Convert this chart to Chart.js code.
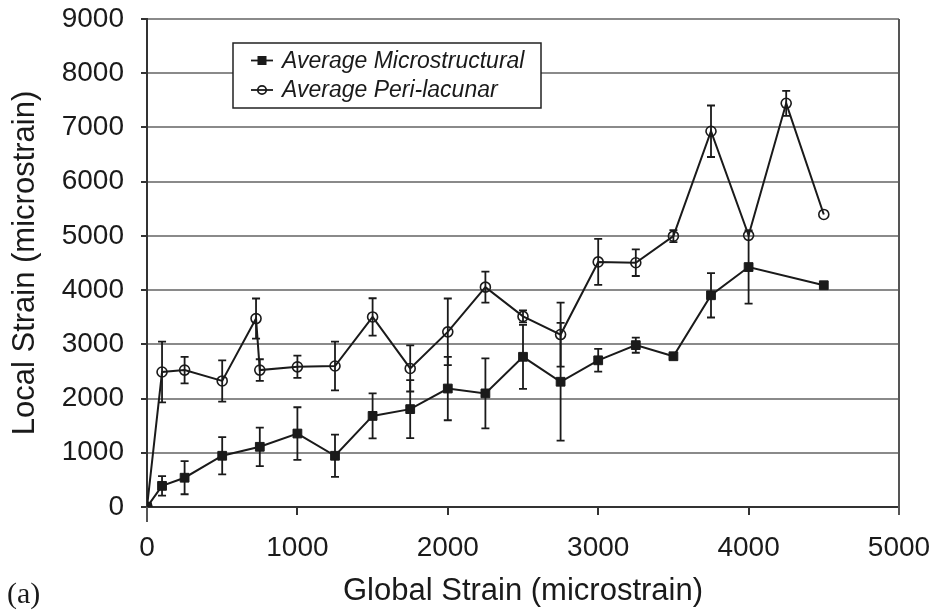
<!DOCTYPE html>
<html>
<head>
<meta charset="utf-8">
<script src="https://cdn.jsdelivr.net/npm/chart.js@4.4.0/dist/chart.umd.min.js"></script>
<style>
  html, body { margin: 0; padding: 0; background: #fff; }
  #wrap { width: 942px; height: 614px; position: relative; }
</style>
</head>
<body>
<div id="wrap"><canvas id="strain_chart"></canvas></div>
<script>
const microX = [0, 100, 250, 500, 750, 1000, 1250, 1500, 1750, 2000, 2250, 2500, 2750, 3000, 3250, 3500, 3750, 4000, 4500];
const microY = [0, 390, 540, 945, 1110, 1355, 945, 1680, 1805, 2185, 2095, 2770, 2310, 2705, 2985, 2780, 3905, 4425, 4090];
const microErr = [0, 180, 305, 345, 355, 485, 390, 415, 535, 585, 645, 590, 1085, 210, 140, 0, 410, 675, 0];

const periX = [0, 100, 250, 500, 725, 750, 1000, 1250, 1500, 1750, 2000, 2250, 2500, 2750, 3000, 3250, 3500, 3750, 4000, 4250, 4500];
const periY = [0, 2490, 2525, 2325, 3475, 2525, 2585, 2600, 3505, 2555, 3230, 4055, 3515, 3180, 4520, 4505, 4995, 6930, 5010, 7445, 5395];
const periErr = [0, 560, 245, 380, 370, 200, 205, 450, 345, 425, 615, 285, 110, 590, 425, 245, 110, 475, 0, 230, 0];

const xTicks = [0, 1000, 2000, 3000, 4000, 5000];
const yTicks = [0, 1000, 2000, 3000, 4000, 5000, 6000, 7000, 8000, 9000];

const seriesNames = ['Average Microstructural', 'Average Peri-lacunar'];
const FONT = "'Liberation Sans', Arial, sans-serif";

function toPoints(xs, ys) {
  return xs.map((x, i) => ({ x: x, y: ys[i] }));
}

// error bars, right frame, legend box, panel label
const extras = {
  id: 'extras',
  beforeDatasetsDraw(chart) {
    const c = chart.ctx;
    const xs = chart.scales.x, ys = chart.scales.y;
    const sets = [[microX, microY, microErr], [periX, periY, periErr]];
    c.save();
    c.strokeStyle = '#1a1a1a';
    c.lineWidth = 1.8;
    sets.forEach(([xv, yv, ev]) => {
      xv.forEach((x, i) => {
        if (!ev[i]) return;
        const px = xs.getPixelForValue(x);
        const top = ys.getPixelForValue(yv[i] + ev[i]);
        const bot = ys.getPixelForValue(yv[i] - ev[i]);
        c.beginPath();
        c.moveTo(px, top); c.lineTo(px, bot);
        c.moveTo(px - 4, top); c.lineTo(px + 4, top);
        c.moveTo(px - 4, bot); c.lineTo(px + 4, bot);
        c.stroke();
      });
    });
    const a = chart.chartArea;
    c.strokeStyle = '#555';
    c.lineWidth = 2;
    c.beginPath();
    c.moveTo(a.right, a.top); c.lineTo(a.right, a.bottom + 8);
    c.moveTo(a.left, a.bottom); c.lineTo(a.left, a.bottom + 15);
    c.stroke();
    c.restore();
  },
  afterDraw(chart) {
    const c = chart.ctx;
    c.save();
    c.fillStyle = '#fff';
    c.fillRect(233, 43, 308, 65);
    c.strokeStyle = '#222';
    c.lineWidth = 1.5;
    c.strokeRect(233, 43, 308, 65);
    const rows = [60.5, 90];
    rows.forEach((ry, i) => {
      c.strokeStyle = '#1a1a1a';
      c.lineWidth = 1.8;
      c.beginPath();
      c.moveTo(251, ry); c.lineTo(273, ry);
      c.stroke();
      if (i === 0) {
        c.fillStyle = '#1a1a1a';
        c.fillRect(257.5, ry - 4.5, 9, 9);
      } else {
        c.beginPath();
        c.arc(262, ry, 4.2, 0, Math.PI * 2);
        c.stroke();
      }
      c.fillStyle = '#1a1a1a';
      c.font = 'italic 23px ' + FONT;
      c.textBaseline = 'middle';
      c.textAlign = 'left';
      c.fillText(seriesNames[i], 282, ry + 1);
    });
    c.font = "30px 'Liberation Serif', 'Times New Roman', serif";
    c.textBaseline = 'middle';
    c.fillText('(a)', 7, 595);
    c.restore();
  }
};

const ctx = document.getElementById('strain_chart').getContext('2d');

const config = {
  type: 'line',
  data: {
    datasets: [
      {
        label: seriesNames[0],
        data: toPoints(microX, microY),
        borderColor: '#1a1a1a',
        backgroundColor: '#1a1a1a',
        borderWidth: 2,
        pointStyle: 'rect',
        pointRadius: 6.2,
        pointBorderWidth: 1,
        pointBackgroundColor: '#1a1a1a',
        tension: 0
      },
      {
        label: seriesNames[1],
        data: toPoints(periX, periY),
        borderColor: '#1a1a1a',
        backgroundColor: 'transparent',
        borderWidth: 2,
        pointStyle: 'circle',
        pointRadius: 5,
        pointBorderWidth: 1.6,
        pointBackgroundColor: 'rgba(255,255,255,0)',
        tension: 0
      }
    ]
  },
  options: {
    responsive: true,
    maintainAspectRatio: false,
    animation: false,
    layout: { padding: { top: 19, right: 43, left: 0, bottom: 0 } },
    plugins: {
      legend: { display: false },
      tooltip: { enabled: false }
    },
    scales: {
      x: {
        type: 'linear',
        min: 0,
        max: 5000,
        afterBuildTicks: (s) => { s.ticks = xTicks.map(v => ({ value: v })); },
        afterFit: (s) => { s.height = 107; s.paddingLeft = 0; s.paddingRight = 0; },
        ticks: { color: '#1a1a1a', font: { family: FONT, size: 28 }, padding: 16, maxRotation: 0, callback: (v) => String(v) },
        grid: { drawOnChartArea: false, tickLength: 8, color: '#333', lineWidth: 2 },
        border: { color: '#333', width: 2 },
        title: {
          display: true,
          text: 'Global Strain (microstrain)',
          color: '#1a1a1a',
          font: { family: FONT, size: 31 },
          padding: { top: 0, bottom: 4 }
        }
      },
      y: {
        type: 'linear',
        min: 0,
        max: 9000,
        afterBuildTicks: (s) => { s.ticks = yTicks.map(v => ({ value: v })); },
        afterFit: (s) => { s.width = 147; s.paddingTop = 0; s.paddingBottom = 0; },
        ticks: { color: '#1a1a1a', font: { family: FONT, size: 28 }, padding: 17, callback: (v) => String(v) },
        grid: { color: '#8a8a8a', lineWidth: 2, tickLength: 6, tickColor: '#333' },
        border: { color: '#333', width: 2 },
        title: {
          display: true,
          text: 'Local Strain (microstrain)',
          color: '#1a1a1a',
          font: { family: FONT, size: 31 },
          padding: { top: 7, bottom: 0 }
        }
      }
    }
  },
  plugins: [extras]
};

const strain_chart = new Chart(ctx, config);
</script>
</body>
</html>
